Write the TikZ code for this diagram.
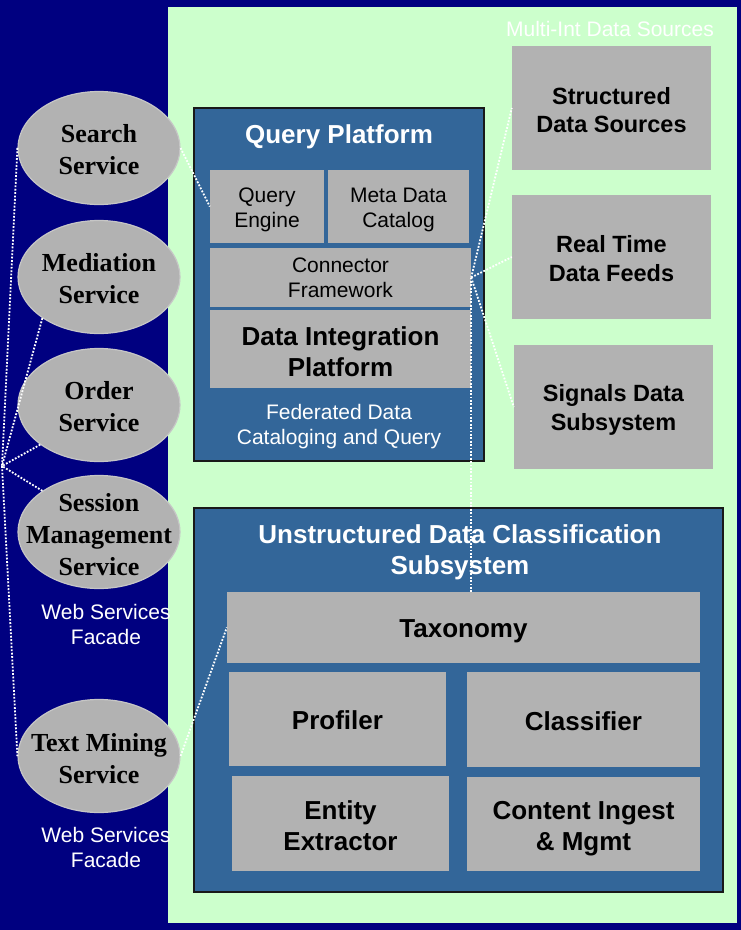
\documentclass[tikz,border=0pt]{standalone}
\usepackage{fontspec}
\setmainfont{Liberation Serif}
\newfontfamily\arial{Liberation Sans}
\usetikzlibrary{shapes.geometric}
\definecolor{navy}{HTML}{000080}
\definecolor{mint}{HTML}{CCFFCC}
\definecolor{steel}{HTML}{336699}
\definecolor{boxgray}{HTML}{B2B2B2}
\definecolor{rimgray}{HTML}{C6C6C6}
\tikzset{
  svc/.style={ellipse, fill=boxgray, draw=rimgray, line width=1.2pt,
    minimum width=162pt, minimum height=113pt, inner sep=0pt},
  svctext/.style={align=center, inner sep=0pt,
    font=\fontsize{26}{32}\selectfont\bfseries},
  panel/.style={fill=steel, draw=black!90, line width=2pt, inner sep=0pt},
  part/.style={fill=boxgray, inner sep=0pt},
  txt/.style={align=center, inner sep=0pt},
  bigbold/.style={txt, font=\arial\fontsize{26}{31}\selectfont\bfseries},
  midbold/.style={txt, font=\arial\fontsize{23.5}{28.5}\selectfont\bfseries},
  plain/.style={txt, font=\arial\fontsize{21}{25}\selectfont},
  whitetext/.style={text=white},
  link/.style={white, line width=1.8pt, dash pattern=on 1.8pt off 1.6pt}
}
\begin{document}
\begin{tikzpicture}[x=1pt, y=-1pt]
  % backgrounds
  \fill[navy] (0,0) rectangle (741,930);
  \fill[mint] (168,7) rectangle (737,923);
  \useasboundingbox (0,0) rectangle (741,930);

  % data sources label
  \node[plain, whitetext] (msrc) at (610,29) {Multi-Int Data Sources};

  % query platform
  \node[panel, minimum width=290pt, minimum height=353pt] (qp) at (339,284.5) {};
  \node[bigbold, whitetext] (qpt) at (339,137) {Query Platform};
  \node[part, minimum width=114pt, minimum height=73pt] (qe) at (267,206.5) {};
  \node[part, minimum width=141pt, minimum height=73pt] (mdc) at (398.5,206.5) {};
  \node[part, minimum width=261pt, minimum height=59pt] (cf) at (340.5,277.5) {};
  \node[part, minimum width=261pt, minimum height=78pt] (dip) at (340.5,349) {};
  \node[plain] (qet) at (267,209.5) {Query\\Engine};
  \node[plain] (mdct) at (398.5,209.5) {Meta Data\\Catalog};
  \node[plain] (cft) at (340.5,278) {Connector\\Framework};
  \node[bigbold] (dipt) at (340.5,352) {Data Integration\\Platform};
  \node[plain, whitetext] (fed) at (339,426.5) {Federated Data\\Cataloging and Query};

  % data sources
  \node[part, minimum width=199pt, minimum height=124pt] (sds) at (611.5,108) {};
  \node[part, minimum width=199pt, minimum height=124pt] (rtf) at (611.5,257) {};
  \node[part, minimum width=199pt, minimum height=124pt] (sig) at (613.5,407) {};
  \node[midbold] (sdst) at (611.5,110) {Structured\\Data Sources};
  \node[midbold] (rtft) at (611.5,258.5) {Real Time\\Data Feeds};
  \node[midbold] (sigt) at (613.5,410) {Signals Data\\Subsystem};

  % unstructured data classification
  \node[panel, minimum width=529pt, minimum height=384pt] (udc) at (458.5,700) {};
  \node[bigbold, whitetext] (udct) at (460,552.5) {Unstructured Data Classification\\Subsystem};
  \node[part, minimum width=473pt, minimum height=71pt] (tax) at (463.5,627.5) {};
  \node[part, minimum width=217pt, minimum height=94pt] (prof) at (337.5,719) {};
  \node[part, minimum width=233pt, minimum height=95pt] (cls) at (583.5,719.5) {};
  \node[part, minimum width=217pt, minimum height=95pt] (ent) at (340.5,823.5) {};
  \node[part, minimum width=233pt, minimum height=94pt] (cim) at (583.5,824) {};
  \node[bigbold] (taxt) at (463.5,631) {Taxonomy};
  \node[bigbold] (proft) at (337.5,720.5) {Profiler};
  \node[bigbold] (clst) at (583.5,721) {Classifier};
  \node[bigbold] (entt) at (340.5,825.5) {Entity\\Extractor};
  \node[bigbold] (cimt) at (583.5,829) {Content Ingest\\\& Mgmt};

  % services: fixed-size ellipses with their labels on top
  \node[svc] (srch) at (99,148) {};
  \node[svc] (med) at (99,277) {};
  \node[svc] (ord) at (99,405) {};
  \node[svc] (sess) at (99,532) {};
  \node[svc] (tm) at (99,756) {};
  \node[svctext] (srcht) at (99,150) {Search\\Service};
  \node[svctext] (medt) at (99,279) {Mediation\\Service};
  \node[svctext] (ordt) at (99,407) {Order\\Service};
  \node[svctext] (sesst) at (99,535) {Session\\Management\\Service};
  \node[svctext] (tmt) at (99,759) {Text Mining\\Service};
  \node[plain, whitetext] (wsf1) at (106,624) {Web Services\\Facade};
  \node[plain, whitetext] (wsf2) at (106,847.5) {Web Services\\Facade};

  % dotted links
  \coordinate (fan) at (2,466);
  \draw[link] (srch.west) -- (fan);
  \draw[link] (med.216) -- (fan);
  \draw[link] (ord.214) -- (fan);
  \draw[link] (sess.144) -- (fan);
  \draw[link] (fan) -- (tm.west);
  \draw[link] (srch.east) -- (qe.west);
  \draw[link] (tm.east) -- (tax.west);
  \draw[link] (cf.east) -- (sds.west);
  \draw[link] (cf.east) -- (rtf.west);
  \draw[link] (cf.east) -- (sig.west);
  \draw[link] (cf.east) -- (cf.east |- tax.north);
\end{tikzpicture}
\end{document}
